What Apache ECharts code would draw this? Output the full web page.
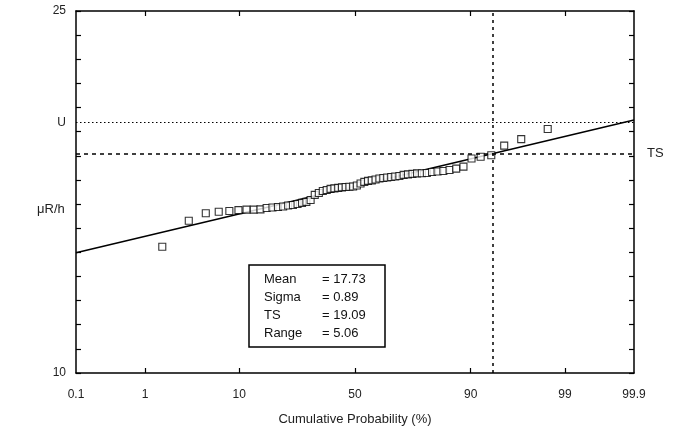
<!DOCTYPE html>
<html><head><meta charset="utf-8">
<script src="https://cdn.jsdelivr.net/npm/echarts@6/dist/echarts.min.js"></script>
<style>html,body{margin:0;padding:0;background:#fff}#c{width:679px;height:432px}</style>
</head><body><div id="c"></div><script>
// ---- data ----
const probTicks = [0.1, 1, 10, 50, 90, 99, 99.9];
const probTickLabels = ['0.1', '1', '10', '50', '90', '99', '99.9'];
const cumProb = [1.64, 3.28, 4.92, 6.56, 8.20, 9.84, 11.48, 13.11, 14.75, 16.39,
  18.03, 19.67, 21.31, 22.95, 24.59, 26.23, 27.87, 29.51, 31.15, 32.79,
  34.43, 36.07, 37.70, 39.34, 40.98, 42.62, 44.26, 45.90, 47.54, 49.18,
  50.82, 52.46, 54.10, 55.74, 57.38, 59.02, 60.66, 62.30, 63.93, 65.57,
  67.21, 68.85, 70.49, 72.13, 73.77, 75.41, 77.05, 78.69, 80.33, 81.97,
  83.61, 85.25, 86.89, 88.52, 90.16, 91.80, 93.44, 95.08, 96.72, 98.36];
const doseRate = [15.23, 16.31, 16.62, 16.68, 16.71, 16.75, 16.77, 16.77, 16.78, 16.84,
  16.86, 16.88, 16.90, 16.94, 16.96, 17.00, 17.05, 17.09, 17.17, 17.38,
  17.46, 17.54, 17.58, 17.63, 17.65, 17.67, 17.69, 17.71, 17.72, 17.73,
  17.77, 17.85, 17.92, 17.96, 17.98, 18.02, 18.06, 18.08, 18.10, 18.12,
  18.14, 18.16, 18.21, 18.23, 18.25, 18.27, 18.28, 18.29, 18.33, 18.35,
  18.37, 18.41, 18.47, 18.55, 18.89, 18.96, 19.02, 19.42, 19.69, 20.11];
const fitLineProb = [0.1, 99.9];
const fitLineValue = [14.98, 20.48];
const upperLimit = 20.39;
const tsValue = 19.09;
const tsProb = 93.7;
const yTickLabels = [10, 25];
const statsLabels = ['Mean', 'Sigma', 'TS', 'Range'];
const statsValues = ['17.73', '0.89', '19.09', '5.06'];

// inverse normal CDF (probability scale of the axis)
function invNorm(p) {
  const a = [-3.969683028665376e+01, 2.209460984245205e+02, -2.759285104469687e+02, 1.383577518672690e+02, -3.066479806614716e+01, 2.506628277459239e+00];
  const b = [-5.447609879822406e+01, 1.615858368580409e+02, -1.556989798598866e+02, 6.680131188771972e+01, -1.328068155288572e+01];
  const c = [-7.784894002430293e-03, -3.223964580411365e-01, -2.400758277161838e+00, -2.549732539343734e+00, 4.374664141464968e+00, 2.938163982698783e+00];
  const d = [7.784695709041462e-03, 3.224671290700398e-01, 2.445134137142996e+00, 3.754408661907416e+00];
  const pl = 0.02425, ph = 1 - pl;
  let q, r;
  if (p < pl) { q = Math.sqrt(-2 * Math.log(p)); return (((((c[0]*q+c[1])*q+c[2])*q+c[3])*q+c[4])*q+c[5]) / ((((d[0]*q+d[1])*q+d[2])*q+d[3])*q+1); }
  if (p <= ph) { q = p - 0.5; r = q*q; return (((((a[0]*r+a[1])*r+a[2])*r+a[3])*r+a[4])*r+a[5])*q / (((((b[0]*r+b[1])*r+b[2])*r+b[3])*r+b[4])*r+1); }
  q = Math.sqrt(-2 * Math.log(1 - p)); return -(((((c[0]*q+c[1])*q+c[2])*q+c[3])*q+c[4])*q+c[5]) / ((((d[0]*q+d[1])*q+d[2])*q+d[3])*q+1);
}
const z = p => invNorm(p / 100);
const zTicks = probTicks.map(z);
const zMin = zTicks[0], zMax = zTicks[zTicks.length - 1];
function probLabel(v) {
  let best = 0, bd = Infinity;
  zTicks.forEach((t, i) => { const dd = Math.abs(t - v); if (dd < bd) { bd = dd; best = i; } });
  return probTickLabels[best];
}
const FONT = 'Liberation Sans';
const axisLineStyle = { color: '#000', width: 1.5 };
const tickStyle = { color: '#000', width: 1.2 };

const chart = echarts.init(document.getElementById('c'), null, { renderer: 'canvas' });
const rich = {
  a: { width: 58, fontSize: 13, fontFamily: FONT, color: '#111', fontWeight: 'normal', lineHeight: 18 },
  b: { fontSize: 13, fontFamily: FONT, color: '#111', fontWeight: 'normal', lineHeight: 18 }
};
chart.setOption({
  animation: false,
  backgroundColor: '#fff',
  title: {
    left: 249, top: 265,
    text: statsLabels.map((l, i) => '{a|' + l + '}{b|= ' + statsValues[i] + '}').join('\n'),
    borderColor: '#000', borderWidth: 1.5, backgroundColor: '#fff',
    padding: [5, 20, 5, 15],
    textStyle: { rich: rich, fontWeight: 'normal', fontSize: 13, fontFamily: FONT, lineHeight: 18 }
  },
  grid: { left: 76, right: 45, top: 11, bottom: 59 },
  graphic: [{ type: 'text', left: 37, top: 203, style: { text: 'μR/h', font: '13px "Liberation Sans"', fill: '#222' } }],
  xAxis: [{
    type: 'value', position: 'bottom', min: zMin, max: zMax,
    axisLine: { onZero: false, lineStyle: axisLineStyle },
    axisTick: { inside: true, length: 5, customValues: zTicks.slice(1, -1), lineStyle: tickStyle },
    axisLabel: { customValues: zTicks, formatter: probLabel, color: '#222', fontSize: 12, fontFamily: FONT, margin: 16 },
    splitLine: { show: false },
    name: 'Cumulative Probability (%)', nameLocation: 'middle', nameGap: 40,
    nameTextStyle: { color: '#222', fontSize: 13, fontFamily: FONT }
  }, {
    type: 'value', position: 'top', min: zMin, max: zMax,
    axisLine: { onZero: false, lineStyle: axisLineStyle },
    axisTick: { inside: true, length: 5, customValues: zTicks.slice(1, -1), lineStyle: tickStyle },
    axisLabel: { show: false }, splitLine: { show: false }
  }],
  yAxis: [{
    type: 'value', position: 'left', min: 10, max: 25, interval: 1,
    axisLine: { onZero: false, lineStyle: axisLineStyle },
    axisTick: { inside: true, length: 5, lineStyle: tickStyle },
    axisLabel: { customValues: yTickLabels.concat([upperLimit]), formatter: v => Math.abs(v - upperLimit) < 1e-6 ? 'U' : String(v), color: '#222', fontSize: 12, fontFamily: FONT, margin: 10 },
    splitLine: { show: false }
  }, {
    type: 'value', position: 'right', min: 10, max: 25, interval: 1,
    axisLine: { onZero: false, lineStyle: axisLineStyle },
    axisTick: { inside: true, length: 5, lineStyle: tickStyle },
    axisLabel: { show: false }, splitLine: { show: false }
  }],
  series: [{
    type: 'line', xAxisIndex: 0, yAxisIndex: 0,
    data: fitLineProb.map((p, i) => [z(p), fitLineValue[i]]),
    symbol: 'none', lineStyle: { color: '#000', width: 1.5 }, z: 2,
    markLine: {
      silent: true, symbol: ['none', 'none'],
      data: [
        { yAxis: upperLimit, lineStyle: { color: '#000', type: [1.5, 2.5], width: 1.2 }, label: { show: false } },
        { yAxis: tsValue, lineStyle: { color: '#000', type: [4, 4], width: 1.5 }, label: { show: true, position: 'end', formatter: 'TS', distance: 13, color: '#222', fontSize: 13, fontFamily: FONT } },
        { xAxis: z(tsProb), lineStyle: { color: '#000', type: [3, 4], width: 1.5 }, label: { show: false } }
      ]
    }
  }, {
    type: 'scatter', xAxisIndex: 0, yAxisIndex: 0,
    data: cumProb.map((p, i) => [z(p), doseRate[i]]),
    symbol: 'rect', symbolSize: 7,
    itemStyle: { color: '#fff', borderColor: '#000', borderWidth: 1.1 }, z: 3
  }]
});
</script></body></html>
